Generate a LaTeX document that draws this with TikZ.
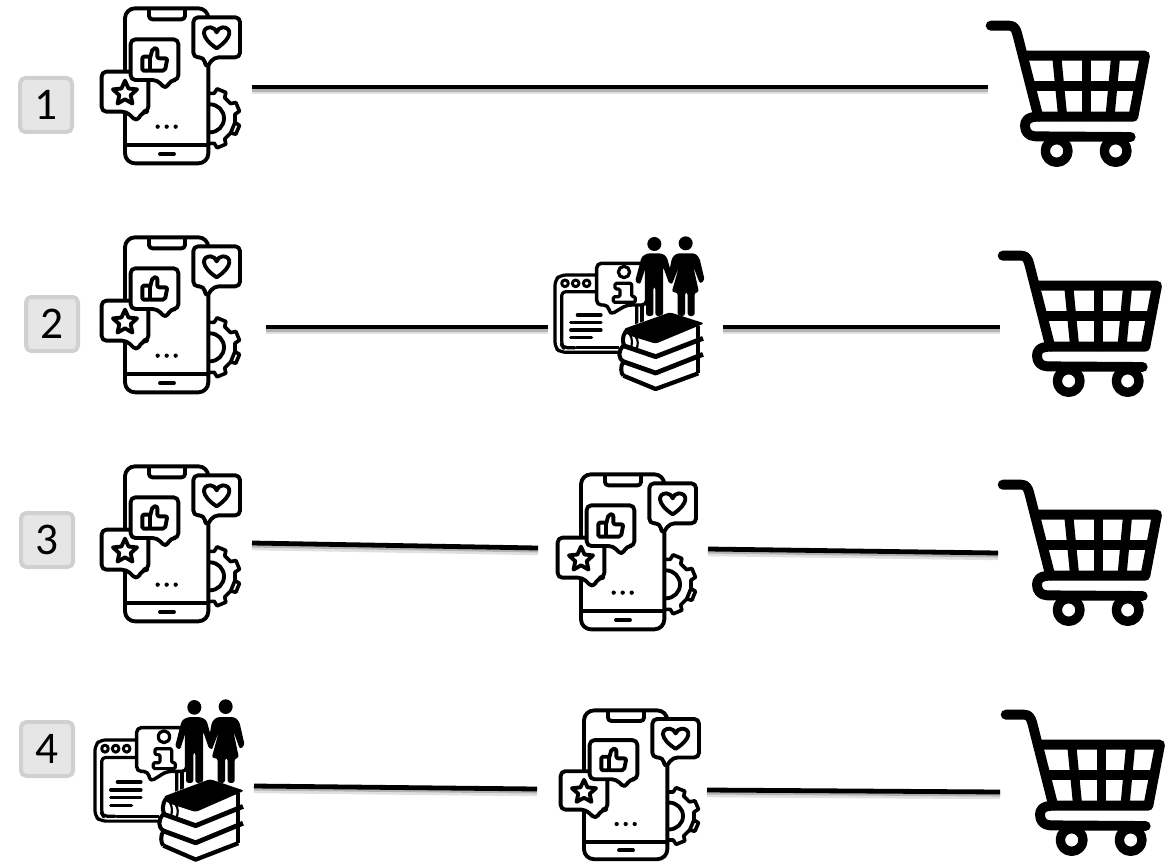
\documentclass[tikz,border=0pt]{standalone}
\usepackage{fontspec}
\setmainfont{Carlito}
\definecolor{lblfill}{HTML}{E6E6E6}
\definecolor{lbledge}{HTML}{D0D0D0}
\tikzset{
  iline/.style={line width=2.9pt,line join=round,line cap=round,draw=black},
  bubble/.style={iline,fill=white,rounded corners=3.5pt},
  rowlabel/.style={rectangle,rounded corners=4pt,draw=lbledge,fill=lblfill,line width=3pt,minimum width=39pt,minimum height=40.5pt,inner sep=0pt,font=\fontsize{34}{34}\selectfont},
  link/.style={draw=black,line width=3.6pt,
    preaction={draw=black!12,line width=6pt,transform canvas={yshift=-2.4pt}},
    preaction={draw=black!30,line width=3.6pt,transform canvas={yshift=-1.6pt}}},
  phoneicon/.pic={
    \begin{scope}[x=.25pt,y=-.25pt]
      % gear
      \begin{scope}[shift={(630,355)}]
        \draw[iline,line width=2.7pt,fill=white] (9:76)
          \foreach \a in {22.5,67.5,...,382.5}{ -- (\a-13:76) -- (\a-9:91) -- (\a+9:91) -- (\a+13:76)} -- cycle;
        \draw[iline,fill=white] (0,0) circle (42);
      \end{scope}
      % body
      \draw[iline,fill=white,rounded corners=7.5pt] (375,25) rectangle (625,490);
      \draw[iline,rounded corners=2.5pt] (447,28) -- (447,58) -- (555,58) -- (555,28);
      \draw[iline] (375,435) -- (625,435);
      \draw[iline] (480,462) -- (522,462);
      \fill (473,380) circle (6.5) (500,380) circle (6.5) (527,380) circle (6.5);
      % heart bubble
      \draw[bubble] (580,52) -- (720,52) -- (720,172) -- (642,172) -- (618,205) -- (612,172) -- (580,172) -- cycle;
      \draw[iline] (650,145) .. controls (600,112) and (605,82) .. (632,82) .. controls (641,82) and (648,90) .. (650,97) .. controls (652,90) and (659,82) .. (668,82) .. controls (695,82) and (700,112) .. (650,145) -- cycle;
      % star bubble
      \draw[bubble] (305,215) -- (445,215) -- (445,335) -- (428,335) -- (410,365) -- (380,335) -- (305,335) -- cycle;
      \begin{scope}[shift={(375,280)}]
        \draw[iline] (-90:38) \foreach \i in {1,...,9}{ -- ({-90+36*\i}:{ifthenelse(mod(\i,2)==0,38,18)})} -- cycle;
      \end{scope}
      % thumb bubble
      \draw[bubble] (392,118) -- (535,118) -- (535,240) -- (512,240) -- (497,268) -- (472,240) -- (392,240) -- cycle;
      \draw[iline,rounded corners=1pt] (427,170) -- (450,170) -- (450,212) -- (427,212) -- cycle;
      \draw[iline,rounded corners=1.5pt] (450,175) -- (458,145) -- (472,145) -- (472,175) -- (502,175) -- (495,212) -- (450,212);
    \end{scope}
  },
  carticon/.pic={
    \begin{scope}[x=.25pt,y=-.25pt,line cap=round,line join=round,draw=black,line width=7.4pt]
      \draw (62,62) -- (118,62) .. controls (132,62) and (138,72) .. (142,88) -- (205,335);
      \draw (165,152) -- (525,152) -- (490,335) -- (205,335) .. controls (170,335) and (165,350) .. (165,362) .. controls (165,380) and (175,393) .. (195,394) -- (482,396);
      \draw (190,243) -- (508,243);
      \draw[line width=6.8pt] (260,152) -- (278,335);
      \draw[line width=6.8pt] (350,152) -- (350,335);
      \draw[line width=6.8pt] (437,152) -- (420,335);
      \draw[line width=7pt] (260,438) circle (34);
      \draw[line width=7pt] (437,438) circle (34);
    \end{scope}
  },
  infoicon/.pic={
    \begin{scope}[x=.25pt,y=-.25pt]
      % window
      \draw[iline,line width=2.4pt,rounded corners=4pt] (330,150) -- (92,150) -- (75,165) -- (75,368) -- (92,382) -- (330,382);
      \draw[iline,line width=2.4pt,rounded corners=3pt] (135,368) -- (100,368) -- (95,360) -- (95,200) -- (320,200) -- (320,340);
      \draw[iline,line width=2.4pt] (140,368) -- (300,368);
      \draw[iline,line width=2.4pt] (336,240) -- (336,340);
      \draw[iline,line width=2.2pt] (105,175) circle (10) (137,175) circle (10) (170,175) circle (10);
      \draw[iline,line width=2.4pt] (142,270) -- (213,270) (122,293) -- (213,293) (122,315) -- (213,315) (122,338) -- (185,338);
      % bubble
      \draw[iline,line width=2.6pt,fill=white,rounded corners=3.5pt] (200,115) -- (350,115) -- (350,240) -- (290,240) -- (240,270) -- (235,240) -- (200,240) -- cycle;
      \draw[iline,line width=2.4pt] (282,141) circle (17);
      \draw[iline,line width=2.4pt,rounded corners=1pt] (255,175) -- (305,175) -- (305,215) -- (316,215) -- (316,232) -- (250,232) -- (250,215) -- (270,215) -- (270,192) -- (255,192) -- cycle;
      % people
      \begin{scope}[shift={(300,15)}]
        \fill (73,42) circle (21) (167,40) circle (21);
        \fill[rounded corners=2pt] (52,70) -- (95,70) -- (110,80) -- (130,150) -- (118,162) -- (99,110) -- (99,258) -- (76,258) -- (76,170) -- (70,170) -- (70,258) -- (48,258) -- (48,110) -- (30,164) -- (15,155) -- (35,80) -- cycle;
        \fill[rounded corners=2pt] (140,70) -- (195,70) -- (208,83) -- (224,150) -- (210,162) -- (190,110) -- (207,187) -- (194,187) -- (194,258) -- (173,258) -- (173,187) -- (165,187) -- (165,258) -- (143,258) -- (143,187) -- (125,187) -- (147,110) -- (125,165) -- (113,150) -- (126,83) -- cycle;
      \end{scope}
      % books
      \begin{scope}[shift={(255,240)},line join=round]
        \fill[white] (25,70) -- (165,22) -- (265,55) -- (250,210) -- (122,258) -- (12,215) -- (12,120) -- cycle;
        \fill[rounded corners=2pt] (25,72) -- (165,22) -- (268,55) -- (122,116) -- (38,90) -- cycle;
        \draw[line width=3.6pt] (25,122) -- (122,155) -- (264,100);
        \draw[line width=3.6pt] (25,170) -- (122,204) -- (264,148);
        \draw[line width=3.2pt] (25,212) -- (122,252) -- (250,205);
        \draw[line width=3pt] (250,62) -- (250,205);
        \draw[line width=3pt] (33,78) .. controls (20,95) and (22,115) .. (30,125);
        \draw[line width=3pt] (25,122) .. controls (8,140) and (10,160) .. (25,170);
        \draw[line width=3pt] (25,170) .. controls (15,185) and (18,205) .. (25,212);
        \draw[line width=1.6pt] (45,90) .. controls (52,100) and (52,115) .. (48,128);
        \draw[line width=1.6pt] (62,95) .. controls (70,105) and (70,120) .. (64,132);
      \end{scope}
    \end{scope}
  },
}
\begin{document}
\begin{tikzpicture}[x=.75pt,y=-.75pt]
\useasboundingbox (0,0) rectangle (1173,863);
\fill[white] (0,0) rectangle (1173,863);

% row labels
\node[rowlabel] (lab1) at (46,105) {1};
\node[rowlabel] (lab2) at (52,324) {2};
\node[rowlabel] (lab3) at (47,540) {3};
\node[rowlabel] (lab4) at (47,749) {4};

% icons
\path (0,0) pic (phone1) {phoneicon};
\path (970,5) pic (cart1) {carticon};
\path (0,229) pic (phone2) {phoneicon};
\path (530,225) pic (info2) {infoicon};
\path (982,235) pic (cart2) {carticon};
\path (0,458) pic (phone3) {phoneicon};
\path (456,466) pic (phone3b) {phoneicon};
\path (982,464) pic (cart3) {carticon};
\path (70,687.4) pic[yscale=1.05] (info4) {infoicon};
\path (459,702.4) pic[yscale=.96] (phone4) {phoneicon};
\path (985,694) pic (cart4) {carticon};

% connector ends
\coordinate (a1) at (252,87);   \coordinate (b1) at (988,87);
\coordinate (a2) at (266,327);  \coordinate (b2) at (548,327);
\coordinate (c2) at (723,327);  \coordinate (d2) at (1000,327);
\coordinate (a3) at (252,543);  \coordinate (b3) at (538,548);
\coordinate (c3) at (708,549);  \coordinate (d3) at (998,553);
\coordinate (a4) at (254,786);  \coordinate (b4) at (537,789);
\coordinate (c4) at (707,790);  \coordinate (d4) at (1000,792);

\draw[link] (a1) -- (b1);
\draw[link] (a2) -- (b2);
\draw[link] (c2) -- (d2);
\draw[link] (a3) -- (b3);
\draw[link] (c3) -- (d3);
\draw[link] (a4) -- (b4);
\draw[link] (c4) -- (d4);
\end{tikzpicture}
\end{document}
